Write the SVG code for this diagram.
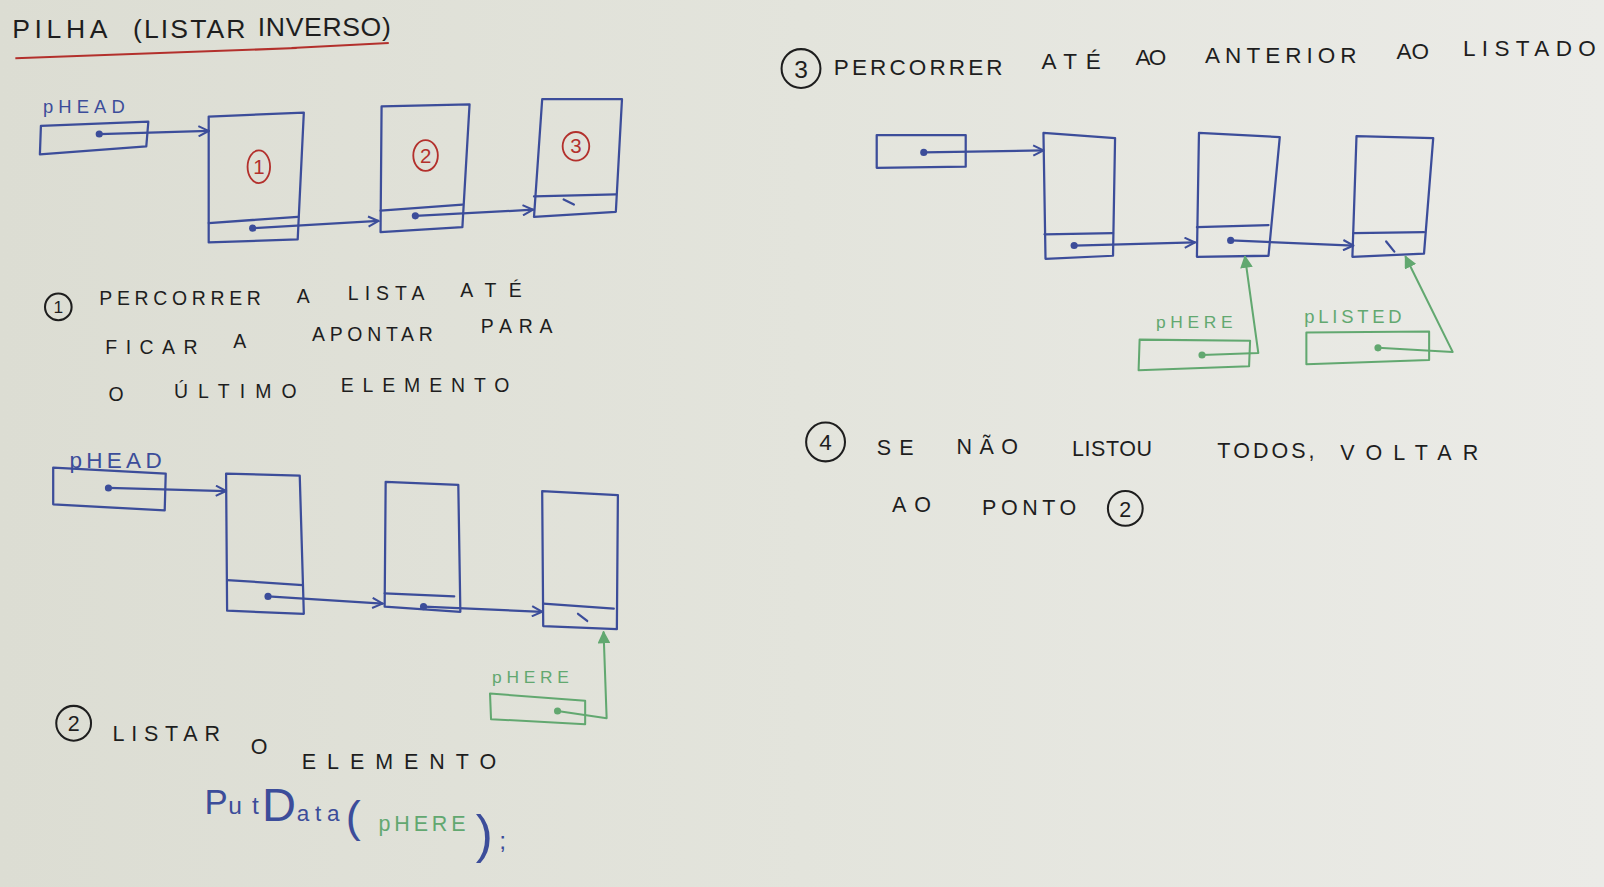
<svg xmlns="http://www.w3.org/2000/svg" width="1604" height="887" viewBox="0 0 1604 887">
<defs>
<linearGradient id="bg" x1="0" y1="0" x2="1" y2="0">
<stop offset="0" stop-color="#dcddd3"/>
<stop offset="0.5" stop-color="#e3e4dc"/>
<stop offset="1" stop-color="#ebebe7"/>
</linearGradient>
<marker id="ab" viewBox="0 0 12 12" refX="11" refY="6" markerWidth="12" markerHeight="12" markerUnits="userSpaceOnUse" orient="auto">
<path d="M1,1 L11,6 L1,11" fill="none" stroke="#3c4d9a" stroke-width="2"/>
</marker>
<marker id="ag" viewBox="0 0 12 12" refX="11" refY="6" markerWidth="12" markerHeight="12" markerUnits="userSpaceOnUse" orient="auto">
<path d="M1,1 L11,6 L1,11 Z" fill="#62a870" stroke="#62a870" stroke-width="1.5"/>
</marker>
<style>
.b{fill:none;stroke:#3c4d9a;stroke-width:2.2;stroke-linejoin:round;stroke-linecap:round}
.g{fill:none;stroke:#62a870;stroke-width:2;stroke-linejoin:round;stroke-linecap:round}
.r{fill:none;stroke:#b3302c;stroke-width:1.8}
.k{fill:none;stroke:#1e1e1e;stroke-width:2}
.db{fill:#3c4d9a}
.dg{fill:#62a870}
.t{font-family:"Liberation Sans","DejaVu Sans",sans-serif;fill:#1e1e1e}
.tb{font-family:"Liberation Sans","DejaVu Sans",sans-serif;fill:#3c4d9a}
.tg{font-family:"Liberation Sans","DejaVu Sans",sans-serif;fill:#62a870}
.tr{font-family:"Liberation Sans","DejaVu Sans",sans-serif;fill:#b3302c}
</style>
</defs>
<rect x="0" y="0" width="1604" height="887" fill="url(#bg)"/>
<g transform="scale(1.023)">

<!-- title -->
<g id="title">
<text class="t" font-size="26" lengthAdjust="spacing"><tspan x="12" y="37" textLength="93">PILHA</tspan> <tspan x="130" y="37" textLength="110">(LISTAR</tspan> <tspan x="252" y="35" textLength="130">INVERSO)</tspan></text>
<path d="M15,57 L290,47 M285,47 L380,42" fill="none" stroke="#b3302c" stroke-width="2"/>
</g>

<!-- ================= Diagram 1 ================= -->
<g id="d1-phead">
<text class="tb" font-size="18" x="42" y="110" textLength="80" lengthAdjust="spacing">pHEAD</text>
<polygon class="b" points="40,123 145,119 143,143 39,151"/>
<circle class="db" cx="97" cy="131" r="3.5"/>
</g>
<g id="d1-node1">
<polygon class="b" points="204,114 297,110 291,234 204,237"/>
<line class="b" x1="204" y1="218" x2="291" y2="212"/>
<ellipse class="r" cx="253" cy="163" rx="11" ry="16"/>
<text class="tr" font-size="20" x="253" y="170" text-anchor="middle">1</text>
<circle class="db" cx="247" cy="223" r="3.5"/>
</g>
<g id="d1-node2">
<polygon class="b" points="373,104 459,102 452,222 372,227"/>
<line class="b" x1="372" y1="206" x2="452" y2="200"/>
<ellipse class="r" cx="416" cy="152" rx="12" ry="15"/>
<text class="tr" font-size="20" x="416" y="159" text-anchor="middle">2</text>
<circle class="db" cx="406" cy="211" r="3.5"/>
</g>
<g id="d1-node3">
<polygon class="b" points="530,97 608,97 602,207 522,212"/>
<line class="b" x1="522" y1="192" x2="602" y2="190"/>
<ellipse class="r" cx="563" cy="143" rx="13" ry="14"/>
<text class="tr" font-size="20" x="563" y="150" text-anchor="middle">3</text>
<line class="b" x1="551" y1="195" x2="561" y2="200"/>
</g>

<!-- section 1 text -->
<g id="step1">
<circle class="k" cx="57" cy="300" r="13"/>
<text class="t" font-size="17" x="57" y="306" text-anchor="middle">1</text>
<text class="t" font-size="19" lengthAdjust="spacing"><tspan x="97" y="298" textLength="158">PERCORRER</tspan> <tspan x="290" y="296" textLength="16">A</tspan> <tspan x="340" y="293" textLength="75">LISTA</tspan> <tspan x="450" y="290" textLength="60">ATÉ</tspan></text>
<text class="t" font-size="19" lengthAdjust="spacing"><tspan x="103" y="346" textLength="90">FICAR</tspan> <tspan x="228" y="340" textLength="16">A</tspan> <tspan x="305" y="333" textLength="118">APONTAR</tspan> <tspan x="470" y="326" textLength="70">PARA</tspan></text>
<text class="t" font-size="19" lengthAdjust="spacing"><tspan x="106" y="392" textLength="14">O</tspan> <tspan x="170" y="389" textLength="120">ÚLTIMO</tspan> <tspan x="333" y="383" textLength="165">ELEMENTO</tspan></text>
</g>

<!-- ================= Diagram 2 ================= -->
<g id="d2-phead">
<text class="tb" font-size="22" x="68" y="457" textLength="90" lengthAdjust="spacing">pHEAD</text>
<polygon class="b" points="52,457 162,463 161,499 52,493"/>
<circle class="db" cx="106" cy="477" r="3.5"/>
</g>
<g id="d2-node1">
<polygon class="b" points="221,463 293,465 297,600 222,597"/>
<line class="b" x1="222" y1="567" x2="296" y2="572"/>
<circle class="db" cx="262" cy="583" r="3.5"/>
</g>
<g id="d2-node2">
<polygon class="b" points="377,471 448,474 450,598 376,593"/>
<line class="b" x1="376" y1="580" x2="444" y2="583"/>
<circle class="db" cx="414" cy="593" r="3.5"/>
</g>
<g id="d2-node3">
<polygon class="b" points="530,480 604,484 603,615 531,612"/>
<line class="b" x1="531" y1="590" x2="600" y2="595"/>
<line class="b" x1="565" y1="600" x2="574" y2="607"/>
</g>
<g id="d2-phere">
<text class="tg" font-size="17" x="481" y="668" textLength="75" lengthAdjust="spacing">pHERE</text>
<polygon class="g" points="479,678 572,685 572,708 480,703"/>
<circle class="dg" cx="545" cy="695" r="3.5"/>
</g>

<!-- section 2 text -->
<g id="step2">
<circle class="k" cx="72" cy="707" r="17"/>
<text class="t" font-size="21" x="72" y="715" text-anchor="middle">2</text>
<text class="t" font-size="21" lengthAdjust="spacing"><tspan x="110" y="724" textLength="105">LISTAR</tspan> <tspan x="245" y="737" textLength="14">O</tspan> <tspan x="295" y="752" textLength="190">ELEMENTO</tspan></text>
<text class="tb" lengthAdjust="spacing"><tspan x="200" y="796" font-size="34">P</tspan><tspan x="223" y="796" font-size="24" textLength="30">ut</tspan><tspan x="256" y="803" font-size="46">D</tspan><tspan x="290" y="803" font-size="22" textLength="42">ata</tspan><tspan font-size="44" x="338" y="813">(</tspan></text>
<text class="tg" font-size="21" x="370" y="812" textLength="85" lengthAdjust="spacing">pHERE</text>
<text class="tb"><tspan x="465" y="833" font-size="50">)</tspan><tspan x="488" y="830" font-size="24">;</tspan></text>
</g>

<!-- ================= Diagram 3 ================= -->
<g id="step3">
<circle class="k" cx="783" cy="67" r="19"/>
<text class="t" font-size="24" x="783" y="76" text-anchor="middle">3</text>
<text class="t" font-size="22" lengthAdjust="spacing"><tspan x="815" y="73" textLength="165">PERCORRER</tspan> <tspan x="1018" y="67" textLength="58">ATÉ</tspan> <tspan x="1110" y="64" textLength="30">AO</tspan> <tspan x="1178" y="62" textLength="148">ANTERIOR</tspan> <tspan x="1365" y="58" textLength="32">AO</tspan> <tspan x="1430" y="55" textLength="130">LISTADO</tspan></text>
</g>
<g id="d3-head">
<polygon class="b" points="857,132 944,132 944,163 857,164"/>
<circle class="db" cx="903" cy="149" r="3.5"/>
</g>
<g id="d3-node1">
<polygon class="b" points="1020,130 1090,135 1088,250 1022,253"/>
<line class="b" x1="1021" y1="229" x2="1088" y2="228"/>
<circle class="db" cx="1050" cy="240" r="3.5"/>
</g>
<g id="d3-node2">
<polygon class="b" points="1172,130 1251,134 1240,250 1170,251"/>
<line class="b" x1="1170" y1="222" x2="1240" y2="220"/>
<circle class="db" cx="1203" cy="235" r="3.5"/>
</g>
<g id="d3-node3">
<polygon class="b" points="1326,133 1401,135 1392,248 1322,251"/>
<line class="b" x1="1323" y1="228" x2="1392" y2="227"/>
<line class="b" x1="1355" y1="236" x2="1363" y2="246"/>
</g>
<g id="d3-phere">
<text class="tg" font-size="17" x="1130" y="321" textLength="75" lengthAdjust="spacing">pHERE</text>
<polygon class="g" points="1114,332 1222,333 1221,358 1113,362"/>
<circle class="dg" cx="1175" cy="347" r="3.5"/>
</g>
<g id="d3-plisted">
<text class="tg" font-size="18" x="1275" y="316" textLength="95" lengthAdjust="spacing">pLISTED</text>
<polygon class="g" points="1277,325 1397,324 1397,352 1277,356"/>
<circle class="dg" cx="1347" cy="340" r="3.5"/>
</g>

<!-- section 4 -->
<g id="step4">
<circle class="k" cx="807" cy="432" r="19"/>
<text class="t" font-size="22" x="807" y="440" text-anchor="middle">4</text>
<text class="t" font-size="21" lengthAdjust="spacing"><tspan x="857" y="445" textLength="36">SE</tspan> <tspan x="935" y="444" textLength="60">NÃO</tspan> <tspan x="1048" y="446" textLength="78">LISTOU</tspan> <tspan x="1190" y="448" textLength="95">TODOS,</tspan> <tspan x="1310" y="450" textLength="135">VOLTAR</tspan></text>
<text class="t" font-size="21" lengthAdjust="spacing"><tspan x="872" y="500" textLength="38">AO</tspan> <tspan x="960" y="503" textLength="92">PONTO</tspan></text>
<circle class="k" cx="1100" cy="497" r="17"/>
<text class="t" font-size="21" x="1100" y="505" text-anchor="middle">2</text>
</g>

<!-- connectors -->
<g id="connectors">
<path class="b" d="M97,131 L204,128" marker-end="url(#ab)"/>
<path class="b" d="M247,223 L370,216" marker-end="url(#ab)"/>
<path class="b" d="M406,211 L521,205" marker-end="url(#ab)"/>
<path class="b" d="M106,477 L221,480" marker-end="url(#ab)"/>
<path class="b" d="M262,583 L374,590" marker-end="url(#ab)"/>
<path class="b" d="M414,593 L530,598" marker-end="url(#ab)"/>
<path class="g" d="M545,695 L593,702 L590,618" marker-end="url(#ag)"/>
<path class="b" d="M903,149 L1020,147" marker-end="url(#ab)"/>
<path class="b" d="M1050,240 L1168,237" marker-end="url(#ab)"/>
<path class="b" d="M1203,235 L1323,240" marker-end="url(#ab)"/>
<path class="g" d="M1175,347 L1230,345 L1217,251" marker-end="url(#ag)"/>
<path class="g" d="M1347,340 L1420,344 L1374,251" marker-end="url(#ag)"/>
</g>
</g>
</svg>
